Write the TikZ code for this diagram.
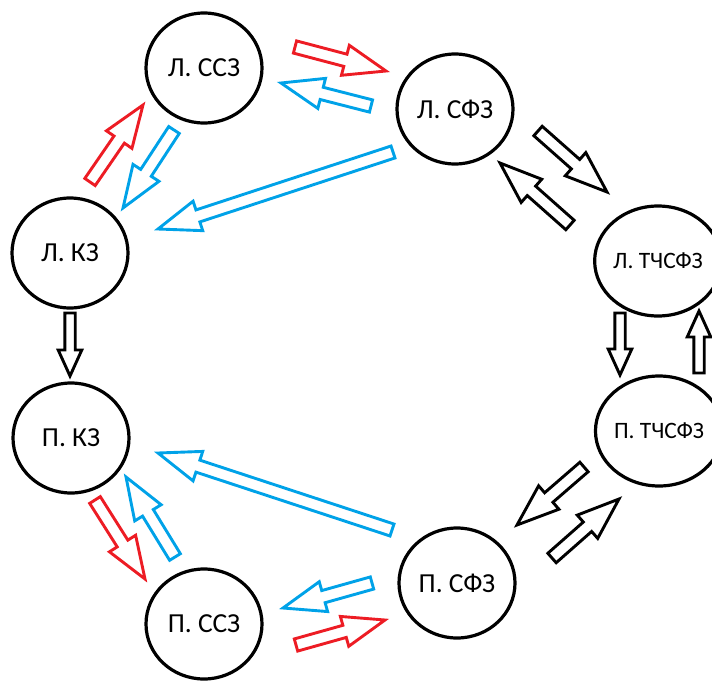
\documentclass[tikz,border=0pt]{standalone}
\usepackage{fontspec}
\setmainfont{Carlito}
\usetikzlibrary{calc,shapes.geometric}
\definecolor{ared}{RGB}{237,28,36}
\definecolor{ablue}{RGB}{0,162,232}
\tikzset{
  zone/.style={ellipse, draw=black, line width=3.2pt, minimum width=116pt, minimum height=110pt, inner sep=0pt, font=\fontsize{27.5}{27.5}\selectfont},
  zonesmall/.style={zone, font=\fontsize{23.5}{23.5}\selectfont},
  blk/.style={line width=2.9pt, line join=miter, fill=white},
}
% #1 colour, #2 tail, #3 tip, #4 shaft half width, #5 head half width, #6 head length
\newcommand{\blockarr}[6]{%
  \coordinate (ba-b) at ($(#3)!#6pt!(#2)$);
  \draw[blk, draw=#1] ($(#2)!#4pt!90:(#3)$) -- ($(ba-b)!#4pt!90:(#3)$) -- ($(ba-b)!#5pt!90:(#3)$)
    -- (#3) -- ($(ba-b)!#5pt!-90:(#3)$) -- ($(ba-b)!#4pt!-90:(#3)$) -- ($(#2)!#4pt!-90:(#3)$) -- cycle;
}
\newcommand{\bigarr}[3]{\blockarr{#1}{#2}{#3}{6.3}{15.5}{42}}
\newcommand{\smallarr}[3]{\blockarr{#1}{#2}{#3}{5.2}{11.8}{26}}
\begin{document}
\begin{tikzpicture}[x=1pt,y=-1pt]
\useasboundingbox (0,0) rectangle (712,680);
\clip (0,0) rectangle (712,680);
\node[zone] (lssz) at (204,68) {Л. ССЗ};
\node[zone] (lsfz) at (455,109) {Л. СФЗ};
\node[zonesmall] (ltch) at (658,261) {Л. ТЧСФЗ};
\node[zonesmall] (ptch) at (659,431) {П. ТЧСФЗ};
\node[zone] (psfz) at (457,583) {П. СФЗ};
\node[zone] (pssz) at (204,624) {П. ССЗ};
\node[zone] (pkz) at (71,438) {П. КЗ};
\node[zone] (lkz) at (70,253) {Л. КЗ};
% arrow end points
\coordinate (a1s) at (295,47);  \coordinate (a1e) at (386,71);
\coordinate (a2s) at (371,106); \coordinate (a2e) at (281,83);
\coordinate (a3s) at (90,182);  \coordinate (a3e) at (143,105);
\coordinate (a4s) at (174,130); \coordinate (a4e) at (123,208);
\coordinate (a5s) at (393,152); \coordinate (a5e) at (158,229);
\coordinate (a6s) at (538,131); \coordinate (a6e) at (607,192);
\coordinate (a7s) at (570,225); \coordinate (a7e) at (500,163);
\coordinate (a8s) at (70,313);  \coordinate (a8e) at (70,376);
\coordinate (a9s) at (620,313); \coordinate (a9e) at (620,375);
\coordinate (a10s) at (699,373); \coordinate (a10e) at (699,311);
\coordinate (a11s) at (392,530); \coordinate (a11e) at (158,453);
\coordinate (a12s) at (95,500);  \coordinate (a12e) at (145,579);
\coordinate (a13s) at (175,557); \coordinate (a13e) at (126,477);
\coordinate (a14s) at (584,467); \coordinate (a14e) at (517,525);
\coordinate (a15s) at (552,558); \coordinate (a15e) at (619,499);
\coordinate (a16s) at (372,583); \coordinate (a16e) at (283,608);
\coordinate (a17s) at (296,645); \coordinate (a17e) at (385,620);
\bigarr{ared}{a1s}{a1e}
\bigarr{ablue}{a2s}{a2e}
\bigarr{ared}{a3s}{a3e}
\bigarr{ablue}{a4s}{a4e}
\bigarr{ablue}{a5s}{a5e}
\bigarr{black}{a6s}{a6e}
\bigarr{black}{a7s}{a7e}
\smallarr{black}{a8s}{a8e}
\smallarr{black}{a9s}{a9e}
\smallarr{black}{a10s}{a10e}
\bigarr{ablue}{a11s}{a11e}
\bigarr{ared}{a12s}{a12e}
\bigarr{ablue}{a13s}{a13e}
\bigarr{black}{a14s}{a14e}
\bigarr{black}{a15s}{a15e}
\bigarr{ablue}{a16s}{a16e}
\bigarr{ared}{a17s}{a17e}
\end{tikzpicture}
\end{document}
